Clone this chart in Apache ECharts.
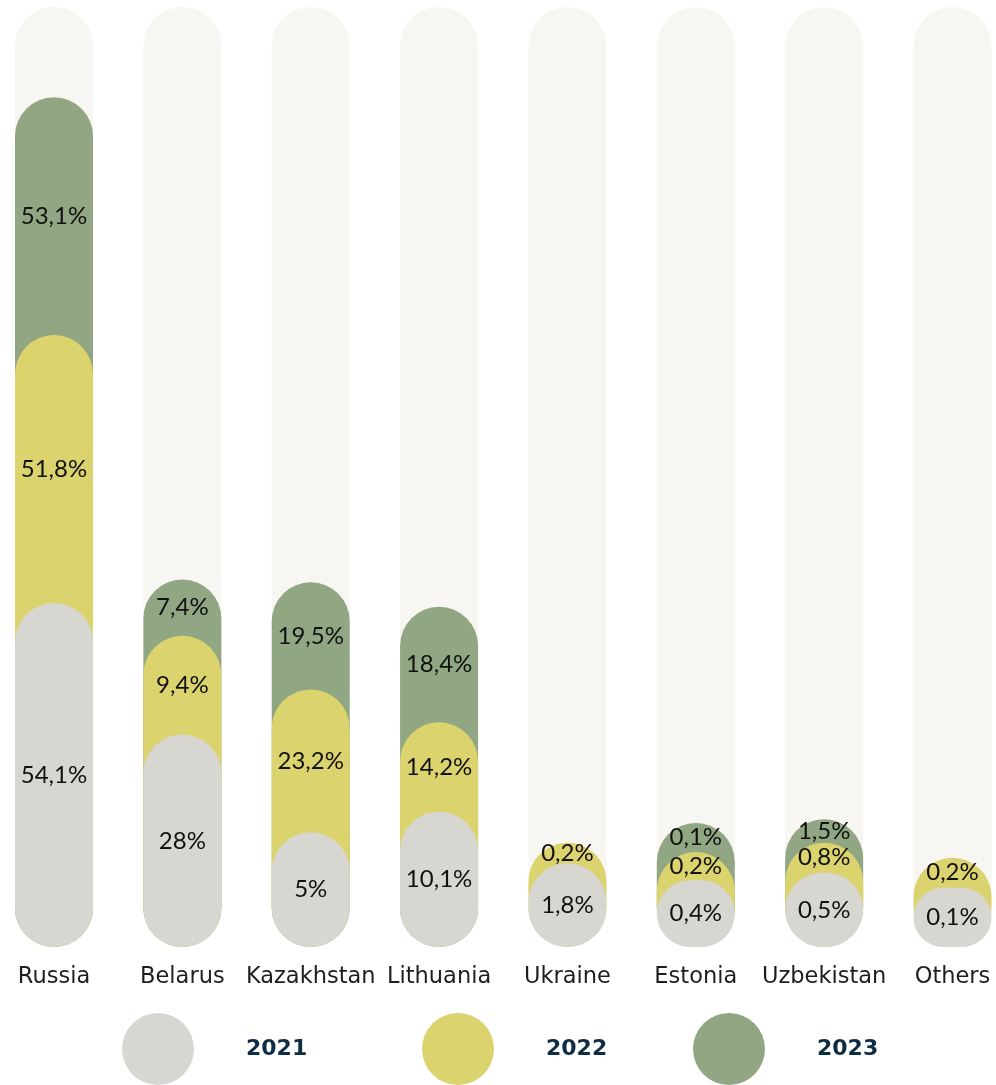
<!DOCTYPE html>
<html>
<head>
<meta charset="utf-8">
<script src="https://cdn.jsdelivr.net/npm/echarts@6/dist/echarts.min.js"></script>
<style>
html,body{margin:0;padding:0;background:#ffffff;}
#chart{width:996px;height:1085px;}
</style>
</head>
<body>
<div id="chart"></div>
<script>
// Categories
const categories = ['Russia', 'Belarus', 'Kazakhstan', 'Lithuania', 'Ukraine', 'Estonia', 'Uzbekistan', 'Others'];
// Shares shown as labels (%)
const shares2021 = [54.1, 28, 5, 10.1, 1.8, 0.4, 0.5, 0.1];
const shares2022 = [51.8, 9.4, 23.2, 14.2, 0.2, 0.2, 0.8, 0.2];
const shares2023 = [53.1, 7.4, 19.5, 18.4, null, 0.1, 1.5, null];
// Bar lengths as drawn in the picture, measured as a share of the full track (track = 100)
const track = [100, 100, 100, 100, 100, 100, 100, 100];
const drawn2021 = [36.6, 22.6, 12.2, 14.4, 8.9, 7.1, 7.9, 6.3];
const drawn2022 = [65.1, 33.1, 27.4, 23.9, 11.1, 10.1, 11.1, 9.5];
const drawn2023 = [90.4, 39.1, 38.8, 36.2, null, 13.2, 13.6, null];
const years = ['2021', '2022', '2023'];

const colors = { track: '#f7f6f2', y2021: '#d7d6d1', y2022: '#dbd36e', y2023: '#91a683' };
const BAR_W = 78;

function fmt(v) { return v == null ? '' : String(v).replace('.', ',') + '%'; }

const pill = (name, data, color, z) => ({
  name: name, type: 'bar', data: data, barWidth: BAR_W, barGap: '-100%', z: z,
  silent: true,
  itemStyle: { color: color, borderRadius: BAR_W / 2 }
});

const labelSeries = (name, data, shares) => ({
  name: name, type: 'bar', stack: 'labels', data: data, barWidth: BAR_W, barGap: '-100%', z: 10,
  silent: true,
  itemStyle: { color: 'rgba(0,0,0,0)' },
  label: {
    show: true, position: 'inside',
    formatter: p => fmt(shares[p.dataIndex]),
    fontFamily: 'Lato', fontSize: 24, color: '#111111'
  }
});

const inc2021 = drawn2021.slice();
const inc2022 = drawn2022.map((v, i) => v == null ? null : +(v - drawn2021[i]).toFixed(2));
const inc2023 = drawn2023.map((v, i) => v == null ? null : +(v - drawn2022[i]).toFixed(2));

const legendLefts = [117, 417, 688];
const legends = years.map((y, i) => ({
  data: [y],
  left: legendLefts[i], top: 1008,
  itemWidth: 72, itemHeight: 72,
  icon: 'circle',
  selectedMode: false,
  textStyle: { fontFamily: 'DejaVu Sans', fontSize: 22, fontWeight: 'bold', color: '#0f2c45', padding: [8, 0, 0, 47] }
}));

const chart = echarts.init(document.getElementById('chart'));
chart.setOption({
  animation: false,
  backgroundColor: '#ffffff',
  grid: { left: 54, right: 43.5, top: 7, bottom: 138, containLabel: false },
  xAxis: {
    type: 'category', data: categories, boundaryGap: false,
    axisLine: { show: false }, axisTick: { show: false },
    axisLabel: { margin: 19, fontFamily: 'DejaVu Sans', fontSize: 22.5, color: '#1e1e1e', interval: 0 }
  },
  yAxis: { type: 'value', min: 0, max: 100, show: false, splitLine: { show: false } },
  legend: legends,
  series: [
    pill('track', track, colors.track, 1),
    pill('2023', drawn2023, colors.y2023, 2),
    pill('2022', drawn2022, colors.y2022, 3),
    pill('2021', drawn2021, colors.y2021, 4),
    labelSeries('l2021', inc2021, shares2021),
    labelSeries('l2022', inc2022, shares2022),
    labelSeries('l2023', inc2023, shares2023)
  ]
});
</script>
</body>
</html>
